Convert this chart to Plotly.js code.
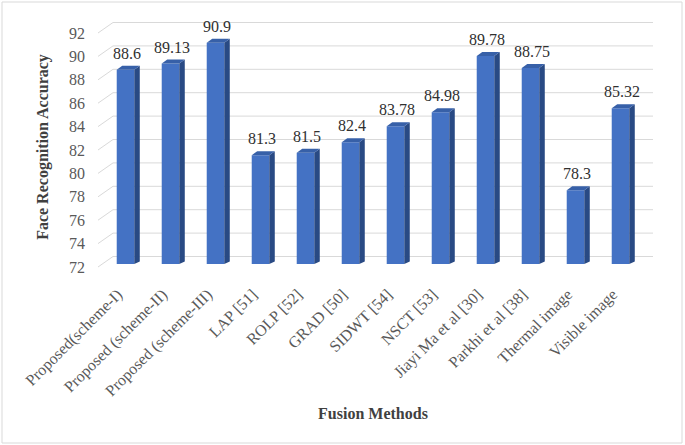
<!DOCTYPE html>
<html>
<head>
<meta charset="utf-8">
<script src="https://cdn.plot.ly/plotly-3.0.1.min.js"></script>
<style>
  html, body { margin: 0; padding: 0; background: #ffffff; }
  #chart { width: 685px; height: 445px; }
</style>
</head>
<body>
<div id="chart"></div>
<script>
// ---- Data ----
const categories = [
  "Proposed(scheme-I)", "Proposed (scheme-II)", "Proposed (scheme-III)",
  "LAP [51]", "ROLP [52]", "GRAD [50]", "SIDWT [54]", "NSCT [53]",
  "Jiayi Ma et al [30]", "Parkhi et al [38]", "Thermal image", "Visible image"
];
const accuracy = [88.6, 89.13, 90.9, 81.3, 81.5, 82.4, 83.78, 84.98, 89.78, 88.75, 78.3, 85.32];
const yTicks = [72, 74, 76, 78, 80, 82, 84, 86, 88, 90, 92];
const yRange = [72, 92];

// ---- Layout geometry ----
const W = 685, H = 445;
const M = { l: 103, r: 42, t: 30, b: 181 };
const PW = W - M.l - M.r, PH = H - M.t - M.b;
const idx = categories.map((_, i) => i);
const barWidth = 0.39;
const pxPerCat = PW / categories.length;
const pxPerUnit = PH / (yRange[1] - yRange[0]);
const depthDx = 5.5 / pxPerCat;     // 3D depth offset, in axis units
const depthDy = 4 / pxPerUnit;

const px2paperX = p => (p - M.l) / PW;
const px2paperY = p => (M.t + PH - p) / PH;
const val2py = v => M.t + PH - (v - yRange[0]) * pxPerUnit;

const gridColor = "#D9D9D9";
const shapes = [];

// back-wall gridlines + side diagonals
yTicks.forEach(t => {
  const py = val2py(t);
  shapes.push({
    type: "line", xref: "paper", yref: "paper", layer: "below",
    x0: px2paperX(113), x1: px2paperX(653),
    y0: px2paperY(py - 7.5), y1: px2paperY(py - 7.5),
    line: { color: gridColor, width: 1 }
  });
  shapes.push({
    type: "line", xref: "paper", yref: "paper", layer: "below",
    x0: px2paperX(98), x1: px2paperX(113),
    y0: px2paperY(py + 3), y1: px2paperY(py - 7.5),
    line: { color: gridColor, width: 1 }
  });
});

// 3D faces of the bars (side + top)
idx.forEach(i => {
  const v = accuracy[i];
  const xl = i - barWidth / 2, xr = i + barWidth / 2;
  const b = yRange[0];
  shapes.push({
    type: "path", xref: "x", yref: "y", layer: "above",
    path: `M ${xr},${v} L ${xr + depthDx},${v + depthDy} L ${xr + depthDx},${b + depthDy * 0.6} L ${xr},${b} Z`,
    fillcolor: "#294A84", line: { width: 0 }
  });
  shapes.push({
    type: "path", xref: "x", yref: "y", layer: "above",
    path: `M ${xl},${v} L ${xr},${v} L ${xr + depthDx},${v + depthDy} L ${xl + depthDx},${v + depthDy} Z`,
    fillcolor: "#3760A8", line: { width: 0 }
  });
});

// outer chart border
shapes.push({
  type: "rect", xref: "paper", yref: "paper", layer: "above",
  x0: px2paperX(2), x1: px2paperX(682), y0: px2paperY(443), y1: px2paperY(2),
  line: { color: "#D9D9D9", width: 1 }, fillcolor: "rgba(0,0,0,0)"
});

const serif = "Liberation Serif, Times New Roman, serif";

// data labels
const annotations = idx.map(i => ({
  x: i, y: accuracy[i], xref: "x", yref: "y",
  text: String(accuracy[i]), showarrow: false,
  yanchor: "middle", xanchor: "center", yshift: 16.5, xshift: 1,
  font: { family: serif, size: 16, color: "#303030" }
}));

const trace = {
  type: "bar",
  x: idx, y: accuracy,
  width: barWidth,
  marker: { color: "#4472C4", line: { width: 0 } },
  hoverinfo: "skip"
};

const layout = {
  width: W, height: H,
  margin: M,
  paper_bgcolor: "#ffffff",
  plot_bgcolor: "rgba(0,0,0,0)",
  showlegend: false,
  font: { family: serif, size: 16, color: "#595959" },
  xaxis: {
    type: "linear",
    range: [-0.5, categories.length - 0.5],
    tickmode: "array", tickvals: idx, ticktext: categories,
    tickangle: -45,
    showgrid: false, zeroline: false, showline: false, ticks: "",
    ticklabelstandoff: 17, ticklabelshift: -8,
    tickfont: { family: serif, size: 16, color: "#595959" },
    automargin: false,
    title: { text: "<b>Fusion Methods</b>", font: { family: serif, size: 16, color: "#404040" }, standoff: 8 }
  },
  yaxis: {
    range: yRange,
    tickmode: "array", tickvals: yTicks,
    showgrid: false, zeroline: false, showline: false, ticks: "",
    ticklabelstandoff: 17, ticklabelshift: 3,
    tickfont: { family: serif, size: 16, color: "#595959" },
    automargin: false,
    title: { text: "<b>Face Recognition Accuracy</b>", font: { family: serif, size: 16, color: "#404040" }, standoff: 16 }
  },
  shapes: shapes,
  annotations: annotations
};

Plotly.newPlot("chart", [trace], layout, { staticPlot: true, displayModeBar: false });
</script>
</body>
</html>
